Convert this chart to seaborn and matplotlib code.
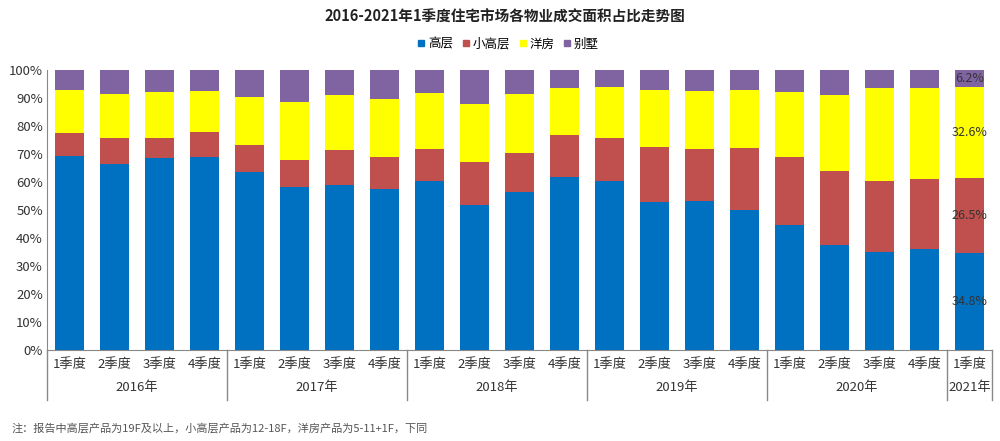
import numpy as np
import pandas as pd
import matplotlib
matplotlib.use('Agg')
import matplotlib.pyplot as plt
import seaborn as sns

years = ['2016年', '2017年', '2018年', '2019年', '2020年', '2021年']
quarters_per_year = [4, 4, 4, 4, 4, 1]
quarter_labels = ['1季度', '2季度', '3季度', '4季度'] * 5 + ['1季度']
series_names = ['高层', '小高层', '洋房', '别墅']
colors = ['#0070C0', '#C0504D', '#FFFF00', '#8064A2']

gaoceng = [69.3, 66.3, 68.6, 68.9, 63.7, 58.2, 58.9, 57.5, 60.4, 51.8, 56.5,
           61.8, 60.2, 52.9, 53.2, 50.0, 44.5, 37.6, 35.1, 36.0, 34.8]
xiaogaoceng = [8.1, 9.5, 7.0, 9.0, 9.6, 9.8, 12.5, 11.5, 11.5, 15.5, 13.9,
               15.1, 15.4, 19.6, 18.5, 22.3, 24.5, 26.3, 25.4, 25.2, 26.5]
yangfang = [15.3, 15.7, 16.4, 14.5, 17.2, 20.7, 19.7, 20.8, 20.0, 20.7, 20.9,
            16.6, 18.4, 20.2, 20.8, 20.6, 23.3, 27.3, 33.1, 32.4, 32.6]
bieshu = [7.3, 8.5, 8.0, 7.6, 9.5, 11.3, 8.9, 10.2, 8.1, 12.0, 8.7,
          6.5, 6.0, 7.3, 7.5, 7.1, 7.7, 8.8, 6.4, 6.4, 6.2]

plt.rcParams['font.family'] = ['Noto Sans CJK SC', 'DejaVu Sans']

df = pd.DataFrame({'q': [f'{i}' for i in range(len(gaoceng))],
                   '高层': gaoceng, '小高层': xiaogaoceng, '洋房': yangfang, '别墅': bieshu})
stack = df[series_names].cumsum(axis=1)

fig = plt.figure(figsize=(10, 4.41), dpi=100)
ax = fig.add_axes([0.047, 0.2063, 0.945, 0.635])

# draw cumulative totals from the top down so each layer shows as a segment
for name, c in reversed(list(zip(series_names, colors))):
    sns.barplot(x=df['q'], y=stack[name], color=c, saturation=1, width=0.65,
                edgecolor='none', linewidth=0, ax=ax)

ax.set_ylim(0, 100)
ax.set_xlim(-0.5, len(gaoceng) - 0.5)
ax.set_yticks(range(0, 101, 10))
ax.set_yticklabels([f'{v}%' for v in range(0, 101, 10)], fontsize=9.5, color='#333333')
ax.set_xticks(range(len(gaoceng)))
ax.set_xticklabels(quarter_labels, fontsize=9.5, color='#333333')
ax.tick_params(axis='x', length=0, pad=6)
ax.tick_params(axis='y', length=0, pad=3)
ax.set_xlabel('')
ax.set_ylabel('')
for s in ['top', 'right']:
    ax.spines[s].set_visible(False)
ax.spines['left'].set_color('#888888')
ax.spines['bottom'].set_color('#888888')

# year group separators and labels
trans = matplotlib.transforms.blended_transform_factory(ax.transData, ax.transAxes)
edges = np.concatenate([[0], np.cumsum(quarters_per_year)]) - 0.5
for e in edges:
    ax.plot([e, e], [0, -0.18], color='#888888', lw=1, transform=trans, clip_on=False)
for y, a, b in zip(years, edges[:-1], edges[1:]):
    ax.text((a + b) / 2, -0.135, y, transform=trans, ha='center', va='center',
            fontsize=9.5, color='#333333')

# value labels on last bar
last = len(gaoceng) - 1
base = 0
for vals in [gaoceng, xiaogaoceng, yangfang, bieshu]:
    v = vals[last]
    ax.text(last, base + v / 2, f'{v}%', ha='center', va='center', fontsize=9, color='#333333')
    base += v

handles = [plt.Line2D([], [], marker='s', ls='', color=c, markersize=5) for c in colors]
fig.legend(handles, series_names, loc='center', bbox_to_anchor=(0.507, 0.9), ncol=4,
           frameon=False, fontsize=9, handletextpad=0.05, columnspacing=0.5, handlelength=1)

fig.text(0.505, 0.962, '2016-2021年1季度住宅市场各物业成交面积占比走势图', ha='center', va='center',
         fontsize=10.5, fontweight='bold', color='#222222')
fig.text(0.012, 0.03, '注：报告中高层产品为19F及以上，小高层产品为12-18F，洋房产品为5-11+1F，下同',
         ha='left', va='center', fontsize=8, color='#555555')

fig.savefig('out.png', dpi=100)
